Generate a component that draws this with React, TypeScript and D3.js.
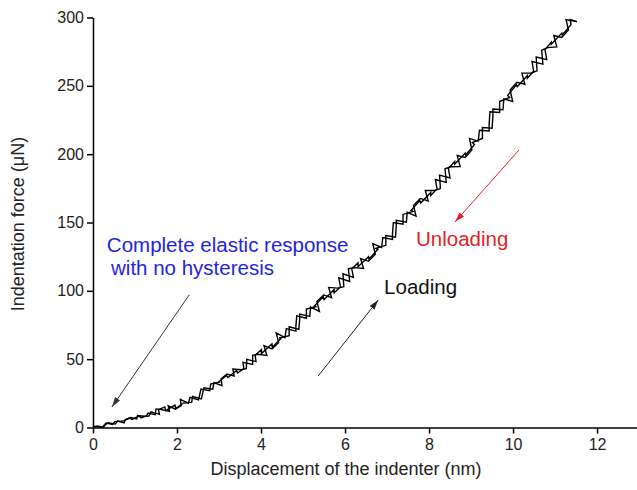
import React, { useEffect, useRef } from 'react';
import * as d3 from 'd3';

// loading branch [displacement nm, force uN]
const loading: [number, number][] = [
  [0.00, 0.0], [0.09, 1.1], [0.25, 0.2], [0.31, 2.5], [0.37, 3.5], [0.53, 2.5],
  [0.59, 4.7], [0.74, 3.4], [0.77, 5.8], [0.90, 7.3], [1.04, 6.3], [1.06, 8.7],
  [1.22, 8.2], [1.33, 8.4], [1.38, 11.4], [1.58, 9.6], [1.56, 13.1], [1.71, 15.1],
  [1.73, 12.3], [1.95, 16.4], [1.97, 13.9], [2.16, 18.1], [2.15, 17.8], [2.35, 18.5],
  [2.37, 22.7], [2.58, 20.9], [2.62, 26.4], [2.64, 29.1], [2.85, 28.0], [2.88, 32.8],
  [3.07, 30.6], [3.05, 35.7], [3.19, 39.1], [3.36, 37.6], [3.33, 42.8], [3.53, 42.3],
  [3.65, 43.1], [3.66, 49.9], [3.88, 48.2], [3.86, 52.9], [4.01, 57.0], [4.01, 54.1],
  [4.26, 61.2], [4.27, 58.8], [4.48, 65.4], [4.43, 65.5], [4.67, 67.1], [4.67, 73.7],
  [4.90, 71.8], [4.92, 79.4], [4.92, 83.0], [5.16, 81.3], [5.18, 88.1], [5.39, 84.9],
  [5.33, 92.2], [5.49, 97.0], [5.68, 95.0], [5.61, 102.5], [5.83, 102.0], [5.97, 103.0],
  [5.95, 112.5], [6.20, 109.8], [6.16, 116.1], [6.31, 120.4], [6.31, 117.7], [6.56, 125.0],
  [6.57, 123.2], [6.78, 130.4], [6.73, 131.1], [6.97, 133.3], [6.97, 140.5], [7.20, 139.2],
  [7.22, 147.4], [7.22, 151.6], [7.46, 150.3], [7.48, 157.5], [7.69, 154.7], [7.63, 162.4],
  [7.79, 167.6], [7.98, 165.8], [7.91, 173.5], [8.13, 173.4], [8.27, 174.8], [8.25, 184.7],
  [8.50, 182.6], [8.46, 189.5], [8.61, 194.6], [8.61, 192.7], [8.86, 200.8], [8.87, 199.4],
  [9.08, 207.0], [9.03, 208.5], [9.27, 211.5], [9.27, 219.5], [9.50, 219.0], [9.52, 228.0],
  [9.52, 233.0], [9.76, 232.5], [9.78, 240.5], [9.99, 238.5], [9.93, 247.0], [10.09, 252.6],
  [10.28, 251.2], [10.21, 259.3], [10.43, 259.4], [10.57, 261.0], [10.55, 271.1], [10.80, 269.2],
  [10.76, 276.5], [10.91, 282.0], [10.91, 280.5], [11.16, 288.6], [11.17, 287.2], [11.38, 294.8],
  [11.36, 298.5], [11.52, 297.0],
];

// unloading branch, back to zero
const unloading: [number, number][] = [
  [11.52, 297.0], [11.26, 298.4], [11.32, 291.0], [11.16, 285.4], [10.97, 286.8], [11.04, 278.5],
  [10.82, 278.0], [10.68, 276.1], [10.71, 265.9], [10.45, 267.8], [10.49, 260.7], [10.34, 255.6],
  [10.34, 257.5], [10.10, 249.4], [10.08, 250.8], [9.87, 243.0], [9.92, 241.5], [9.68, 238.5],
  [9.68, 230.5], [9.45, 231.0], [9.43, 222.0], [9.43, 217.0], [9.20, 217.5], [9.17, 209.5],
  [8.96, 211.5], [9.02, 203.2], [8.86, 197.6], [8.67, 199.0], [8.74, 190.9], [8.52, 190.8],
  [8.38, 189.3], [8.41, 179.4], [8.15, 181.5], [8.19, 174.6], [8.04, 169.7], [8.04, 171.9],
  [7.80, 164.2], [7.78, 166.0], [7.57, 158.8], [7.62, 158.1], [7.38, 155.9], [7.38, 148.7],
  [7.15, 150.0], [7.13, 141.8], [7.13, 137.6], [6.90, 138.9], [6.87, 131.7], [6.66, 134.5],
  [6.72, 126.8], [6.56, 121.6], [6.37, 123.6], [6.44, 116.3], [6.22, 117.0], [6.08, 116.2],
  [6.11, 106.9], [5.85, 109.5], [5.89, 103.0], [5.74, 98.5], [5.74, 101.0], [5.50, 93.5],
  [5.48, 95.6], [5.27, 88.8], [5.32, 88.5], [5.08, 86.7], [5.08, 79.9], [4.85, 81.7],
  [4.83, 74.1], [4.83, 70.5], [4.60, 72.4], [4.57, 65.8], [4.36, 69.2], [4.42, 62.1],
  [4.26, 57.5], [4.07, 59.9], [4.14, 52.8], [3.92, 53.6], [3.80, 52.8], [3.80, 46.1],
  [3.57, 47.7], [3.59, 43.1], [3.44, 39.9], [3.42, 41.8], [3.21, 36.6], [3.18, 38.1],
  [2.99, 33.3], [3.00, 33.1], [2.80, 31.8], [2.78, 27.0], [2.57, 28.1], [2.53, 22.6],
  [2.51, 20.2], [2.31, 22.0], [2.27, 17.8], [2.08, 20.6], [2.10, 16.0], [1.96, 13.4],
  [1.79, 15.9], [1.82, 11.8], [1.62, 13.2], [1.50, 13.6], [1.48, 9.4], [1.31, 10.5],
  [1.27, 8.5], [1.15, 7.2], [1.09, 8.3], [0.93, 5.9], [0.87, 6.9], [0.72, 4.7],
  [0.68, 4.7], [0.52, 4.3], [0.47, 2.2], [0.31, 3.2], [0.24, 0.8], [0.19, 0.1],
  [0.03, 0.8], [0.00, 0.3],
];

const xTicks = [0, 2, 4, 6, 8, 10, 12];
const xMinor = [1, 3, 5, 7, 9, 11];
const yTicks = [0, 50, 100, 150, 200, 250, 300];
const yMinor = [25, 75, 125, 175, 225, 275];

// annotations in data units
const notes = [
  { text: 'Complete elastic response', x: 0.33, y: 128.4, color: '#2424e0' },
  { text: 'with no hysteresis', x: 0.43, y: 111.6, color: '#2424e0' },
  { text: 'Loading', x: 6.93, y: 97.7, color: '#111' },
  { text: 'Unloading', x: 7.69, y: 132.8, color: '#e5222a' },
];
const arrows = [
  { from: [2.29, 97], to: [0.45, 15], color: '#333' },
  { from: [5.36, 37.7], to: [6.79, 93.3], color: '#222' },
  { from: [10.14, 203], to: [8.62, 150.4], color: '#e5222a' },
];

const W = 637, H = 490;
const font = 'Liberation Sans, Arial, sans-serif';

export default function App() {
  const ref = useRef<SVGSVGElement>(null);

  useEffect(() => {
    const svg = d3.select(ref.current);
    svg.selectAll('*').remove();

    const x = d3.scaleLinear().domain([0, 12.95]).range([93, 637]);
    const y = d3.scaleLinear().domain([0, 300]).range([427.5, 17.5]);

    const defs = svg.append('defs');
    arrows.forEach((a, i) => {
      defs.append('marker')
        .attr('id', 'head' + i)
        .attr('viewBox', '0 0 10 6')
        .attr('refX', 10).attr('refY', 3)
        .attr('markerWidth', 10).attr('markerHeight', 6)
        .attr('markerUnits', 'userSpaceOnUse')
        .attr('orient', 'auto')
        .append('path')
        .attr('d', 'M0,0 L10,3 L0,6 Z')
        .attr('fill', a.color);
    });

    const line = d3.line<[number, number]>()
      .x(d => x(d[0]))
      .y(d => y(d[1]));

    [loading, unloading].forEach(s => {
      svg.append('path')
        .datum(s)
        .attr('d', line)
        .attr('fill', 'none')
        .attr('stroke', '#000')
        .attr('stroke-width', 1.4);
    });

    // axes
    const gx = svg.append('g').attr('transform', `translate(0,${y(0)})`);
    gx.call(d3.axisBottom(x).tickValues(xMinor).tickSize(4).tickSizeOuter(0).tickFormat(() => ''));
    gx.call(d3.axisBottom(x).tickValues(xTicks).tickSize(6).tickSizeOuter(0).tickPadding(5));

    const gy = svg.append('g').attr('transform', `translate(${x(0)},0)`);
    gy.call(d3.axisLeft(y).tickValues(yMinor).tickSize(4).tickSizeOuter(0).tickFormat(() => ''));
    gy.call(d3.axisLeft(y).tickValues(yTicks).tickSize(6).tickSizeOuter(0).tickPadding(3));

    svg.selectAll('.domain, .tick line').attr('stroke', '#000').attr('stroke-width', 1.5);
    svg.selectAll('.tick text')
      .attr('font-family', font).attr('font-size', 16).attr('fill', '#222');

    svg.append('text')
      .attr('x', 346).attr('y', 475)
      .attr('text-anchor', 'middle')
      .attr('font-family', font).attr('font-size', 18).attr('fill', '#222')
      .text('Displacement of the indenter (nm)');

    svg.append('text')
      .attr('transform', 'translate(24,224) rotate(-90)')
      .attr('text-anchor', 'middle')
      .attr('font-family', font).attr('font-size', 18).attr('fill', '#222')
      .text('Indentation force (μN)');

    notes.forEach(n => {
      svg.append('text')
        .attr('x', x(n.x)).attr('y', y(n.y))
        .attr('font-family', font).attr('font-size', 20.5).attr('fill', n.color)
        .text(n.text);
    });

    arrows.forEach((a, i) => {
      svg.append('line')
        .attr('x1', x(a.from[0])).attr('y1', y(a.from[1]))
        .attr('x2', x(a.to[0])).attr('y2', y(a.to[1]))
        .attr('stroke', a.color).attr('stroke-width', 1)
        .attr('marker-end', `url(#head${i})`);
    });
  }, []);

  return (
    <svg ref={ref} width={W} height={H}
      style={{ position: 'absolute', left: 0, top: 0, background: '#fff' }} />
  );
}
